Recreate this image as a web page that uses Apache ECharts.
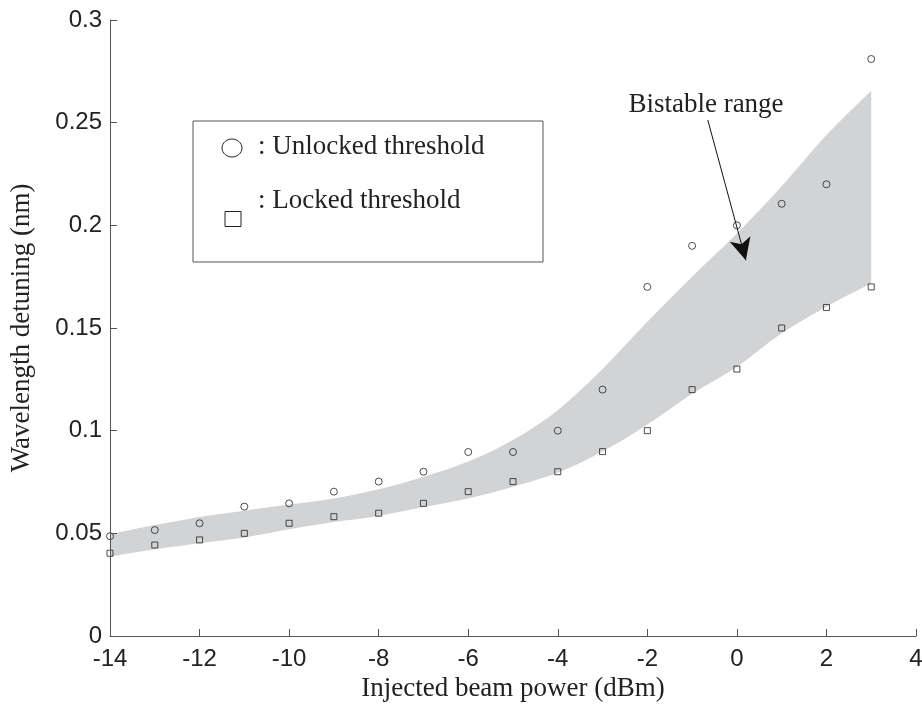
<!DOCTYPE html>
<html>
<head>
<meta charset="utf-8">
<script src="https://cdn.jsdelivr.net/npm/echarts@6/dist/echarts.min.js"></script>
<style>
html,body{margin:0;padding:0;background:#fff;}
#chart{width:922px;height:706px;}
</style>
</head>
<body>
<div id="chart"></div>
<script>
// Injected beam power (dBm)
const powerValues = [-14,-13,-12,-11,-10,-9,-8,-7,-6,-5,-4,-3,-2,-1,0,1,2,3];
// Unlocked threshold (circles), nm
const unlockedThreshold = [0.0486,0.0516,0.0549,0.063,0.0646,0.0703,0.0752,0.080,0.0896,0.0896,0.100,0.120,0.170,0.190,0.200,0.2105,0.220,0.281];
// Locked threshold (squares), nm
const lockedThreshold = [0.0403,0.0443,0.0468,0.050,0.0549,0.0581,0.0598,0.0646,0.0703,0.0752,0.080,0.0898,0.100,0.120,0.130,0.150,0.160,0.170];
// Bistable range band edges, nm
const bandUpper = [0.0495,0.054,0.058,0.061,0.064,0.067,0.0715,0.0776,0.085,0.0955,0.110,0.130,0.153,0.175,0.196,0.219,0.244,0.2656];
const bandLower = [0.0386,0.0422,0.0452,0.048,0.052,0.0555,0.0585,0.0628,0.067,0.0727,0.0795,0.0898,0.103,0.118,0.131,0.1474,0.1604,0.1718];
// Arrow annotation (data coordinates): start, end
const arrowStart = [-0.65, 0.2513];
const arrowEnd = [0.2, 0.183];

const serif = 'Liberation Serif';
const sans = 'Liberation Sans';
const axisColor = '#555';
const textColor = '#222';

// Catmull-Rom spline through pixel points -> SVG path segments
function splineSegs(pts) {
  let d = '';
  for (let i = 0; i < pts.length - 1; i++) {
    const p0 = pts[i > 0 ? i - 1 : i], p1 = pts[i], p2 = pts[i + 1], p3 = pts[i + 2 < pts.length ? i + 2 : i + 1];
    const c1x = p1[0] + (p2[0] - p0[0]) / 6, c1y = p1[1] + (p2[1] - p0[1]) / 6;
    const c2x = p2[0] - (p3[0] - p1[0]) / 6, c2y = p2[1] - (p3[1] - p1[1]) / 6;
    d += ' C' + c1x + ',' + c1y + ' ' + c2x + ',' + c2y + ' ' + p2[0] + ',' + p2[1];
  }
  return d;
}

function renderBand(params, api) {
  const up = powerValues.map((x, i) => api.coord([x, bandUpper[i]]));
  const lo = powerValues.map((x, i) => api.coord([x, bandLower[i]])).reverse();
  let d = 'M' + up[0][0] + ',' + up[0][1] + splineSegs(up);
  d += ' L' + lo[0][0] + ',' + lo[0][1] + splineSegs(lo) + ' Z';
  return { type: 'path', shape: { pathData: d }, style: { fill: '#d2d3d5', stroke: null } };
}

const chart = echarts.init(document.getElementById('chart'));
const option = {
  animation: false,
  backgroundColor: '#fff',
  grid: { left: 110, right: 6, top: 20, bottom: 70, containLabel: false, outerBoundsMode: 'none' },
  xAxis: {
    type: 'value', min: -14, max: 4, interval: 2, z: 10,
    name: 'Injected beam power (dBm)', nameLocation: 'middle', nameGap: 34,
    nameTextStyle: { fontFamily: serif, fontSize: 27, color: textColor },
    axisLine: { show: true, onZero: false, lineStyle: { color: axisColor, width: 1 } },
    axisTick: { show: true, inside: true, length: 7, lineStyle: { color: axisColor } },
    axisLabel: { fontFamily: sans, fontSize: 24, color: textColor, margin: 11 },
    splitLine: { show: false }
  },
  yAxis: {
    type: 'value', min: 0, max: 0.3, interval: 0.05, z: 10,
    name: 'Wavelength detuning (nm)', nameLocation: 'middle', nameGap: 75, nameRotate: 90,
    nameTextStyle: { fontFamily: serif, fontSize: 27, color: textColor },
    axisLine: { show: true, onZero: false, lineStyle: { color: axisColor, width: 1 } },
    axisTick: { show: true, inside: true, length: 7, lineStyle: { color: axisColor } },
    axisLabel: { fontFamily: sans, fontSize: 24, color: textColor, margin: 8 },
    splitLine: { show: false }
  },
  series: [
    {
      name: 'Bistable range', type: 'custom', silent: true, z: 1,
      renderItem: renderBand,
      data: [[powerValues[0], bandLower[0]]]
    },
    {
      name: 'Unlocked threshold', type: 'scatter', symbol: 'circle', symbolSize: 7, z: 5,
      itemStyle: { color: 'rgba(0,0,0,0)', borderColor: '#222', borderWidth: 1 },
      data: powerValues.map((x, i) => [x, unlockedThreshold[i]])
    },
    {
      name: 'Locked threshold', type: 'scatter', symbol: 'rect', symbolSize: 6, z: 5,
      itemStyle: { color: 'rgba(0,0,0,0)', borderColor: '#222', borderWidth: 1 },
      data: powerValues.map((x, i) => [x, lockedThreshold[i]]),
      markLine: {
        silent: true, animation: false,
        symbol: ['none', 'arrow'], symbolSize: 20,
        label: { show: false },
        lineStyle: { color: '#111', width: 1, type: 'solid' },
        itemStyle: { color: '#111' },
        data: [[{ coord: arrowStart, symbol: 'none' }, { coord: arrowEnd, symbol: 'arrow', symbolSize: [16, 22] }]]
      }
    }
  ],
  graphic: [
    { type: 'rect', shape: { x: 193, y: 121, width: 350, height: 141 },
      style: { fill: '#fff', stroke: axisColor, lineWidth: 1 }, z: 10 },
    { type: 'ellipse', shape: { cx: 232, cy: 148, rx: 10, ry: 9 },
      style: { fill: 'none', stroke: '#222', lineWidth: 1 }, z: 11 },
    { type: 'rect', shape: { x: 225, y: 211.5, width: 16, height: 15 },
      style: { fill: 'none', stroke: '#222', lineWidth: 1 }, z: 11 },
    { type: 'text', x: 258, y: 147, z: 11,
      style: { text: ': Unlocked threshold', fontFamily: serif, fontSize: 27, fill: textColor, verticalAlign: 'middle' } },
    { type: 'text', x: 258, y: 201, z: 11,
      style: { text: ': Locked threshold', fontFamily: serif, fontSize: 27, fill: textColor, verticalAlign: 'middle' } },
    { type: 'text', x: 706, y: 105, z: 11,
      style: { text: 'Bistable range', fontFamily: serif, fontSize: 27, fill: textColor, align: 'center', verticalAlign: 'middle' } }
  ]
};
chart.setOption(option);
</script>
</body>
</html>
